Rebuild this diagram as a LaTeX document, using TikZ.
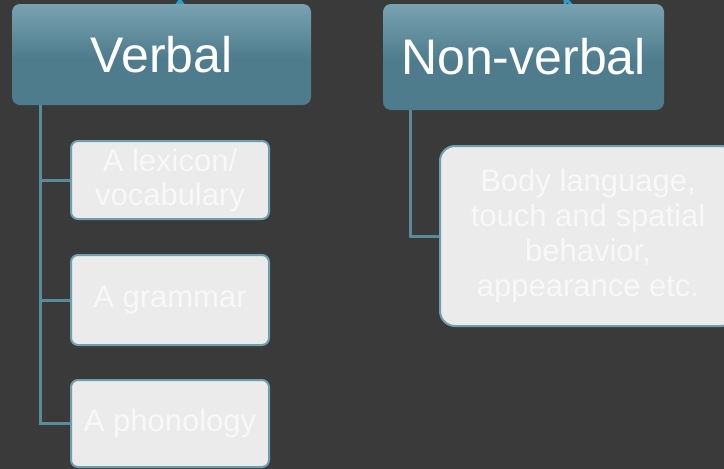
\documentclass[tikz,border=0pt]{standalone}
\usepackage{fontspec}
\setmainfont{Liberation Sans}
\usetikzlibrary{arrows.meta}
\definecolor{bgdark}{HTML}{3A3A3A}
\definecolor{headtop}{HTML}{A0C5D3}
\definecolor{headmid}{HTML}{4E7C8C}
\definecolor{headbot}{HTML}{5CA4BC}
\definecolor{linkblue}{HTML}{5A8B9A}
\definecolor{leafedge}{HTML}{6E9FAF}
\definecolor{leaffill}{HTML}{EBEBEB}
\definecolor{leaftext}{HTML}{F8F8F8}
\definecolor{feedblue}{HTML}{2F9DCB}
\pgfdeclareverticalshading{headshade}{100bp}{color(0bp)=(headbot); color(14bp)=(headmid);
  color(48bp)=(headmid); color(100bp)=(headtop)}
\tikzset{
  header/.style={rounded corners=8pt, inner sep=0pt, text=white,
    shading=headshade, font=\fontsize{50}{58}\selectfont},
  leaf/.style={draw=leafedge, line width=2pt, fill=leaffill, rounded corners=7pt,
    inner sep=0pt, text=leaftext, align=center,
    font=\fontsize{31}{34}\selectfont},
  link/.style={draw=linkblue, line width=3pt},
  feed/.style={draw=feedblue, line width=3pt, -{Stealth[length=10pt,width=15pt]}}
}
\begin{document}
\begin{tikzpicture}[x=1pt,y=-1pt]
\useasboundingbox (0,0) rectangle (724,469);
\fill[bgdark] (0,0) rectangle (724,469);
\clip (0,0) rectangle (724,469);
% ends of the links from the level above
\coordinate (feedL) at (180,-2);
\coordinate (feedR) at (563,-4);
\draw[feed] (180,14) -- (feedL);
\draw[feed] (582,16) -- (feedR);
% headers
\node[header, minimum width=299pt, minimum height=101pt] (verbal) at (161.5,54.5) {Verbal};
\node[header, minimum width=281pt, minimum height=106pt] (nonverbal) at (523.5,57) {Non-verbal};
% leaves
\node[leaf, minimum width=198pt, minimum height=78pt] (lexicon) at (170,180) {A lexicon/\\vocabulary};
\node[leaf, minimum width=198pt, minimum height=90pt] (grammar) at (170,300) {A grammar};
\node[leaf, minimum width=198pt, minimum height=87pt] (phonology) at (170,423.5) {A phonology};
\node[leaf, rounded corners=15pt, minimum width=296pt, minimum height=180pt,
  font=\fontsize{31}{35}\selectfont] (body) at (588,236)
  {Body language,\\touch and spatial\\behavior,\\appearance etc.};
% links
\draw[link] ([xshift=29pt]verbal.south west) |- (lexicon.west);
\draw[link] ([xshift=29pt]verbal.south west) |- (grammar.west);
\draw[link] ([xshift=29pt]verbal.south west) |- (phonology.west);
\draw[link] ([xshift=28pt]nonverbal.south west) |- (body.west);
\end{tikzpicture}
\end{document}
